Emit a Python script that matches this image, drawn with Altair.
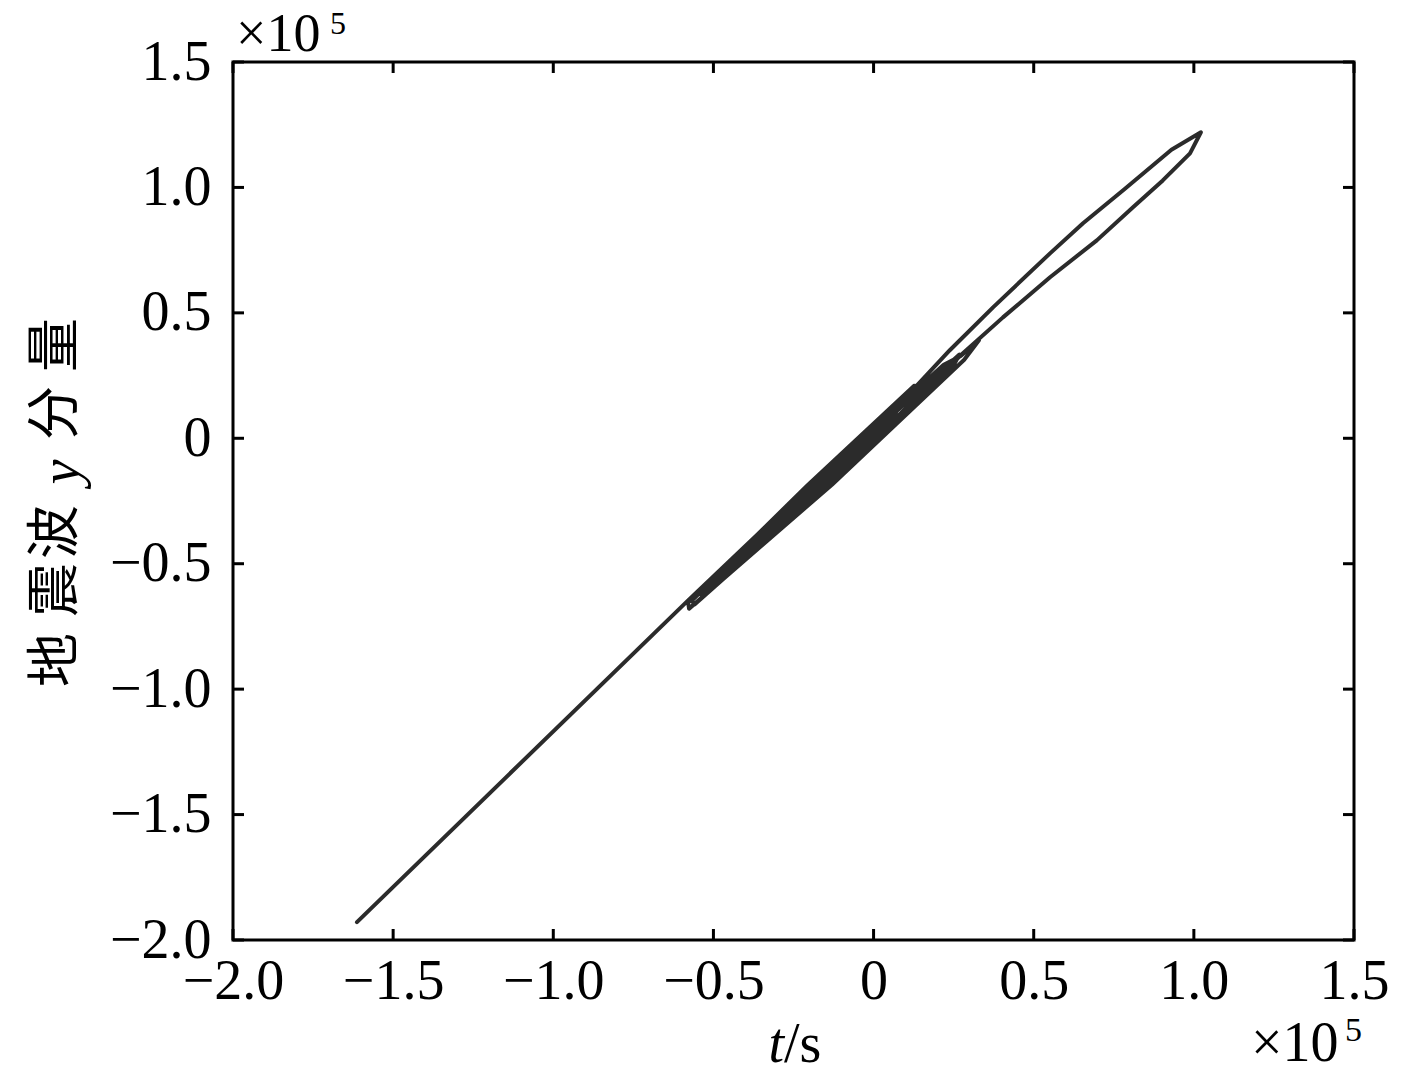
import altair as alt
import pandas as pd

# Trajectory (units of 1e5)
x_vals = [-1.613, -0.579, -0.230, 0.020, 0.092, 0.238, 0.373, 0.551, 0.654, 0.784, 0.930, 1.022,
          0.988, 0.903, 0.810, 0.697, 0.551, 0.404, 0.279, 0.135,
          -0.176, -0.558,
          -0.568, -0.160, 0.219, 0.272, 0.329,
          0.283, -0.130, -0.576,
          -0.579, -0.206, 0.126,
          0.178, -0.185, -0.537,
          -0.524, -0.112, 0.268,
          0.251, -0.139, -0.478,
          -0.466, -0.197, 0.092,
          0.061, -0.314,
          -0.068]
y_vals = [-1.929, -0.646, -0.223, 0.072, 0.151, 0.351, 0.522, 0.737, 0.857, 0.994, 1.150, 1.220,
          1.136, 1.028, 0.921, 0.789, 0.642, 0.482, 0.339, 0.163,
          -0.228, -0.662,
          -0.648, -0.144, 0.293, 0.328, 0.391,
          0.313, -0.185, -0.679,
          -0.655, -0.187, 0.209,
          0.201, -0.216, -0.627,
          -0.601, -0.104, 0.334,
          0.293, -0.173, -0.558,
          -0.532, -0.199, 0.148,
          0.085, -0.358,
          -0.057]

x_ticks = [-2.0, -1.5, -1.0, -0.5, 0.0, 0.5, 1.0, 1.5]
y_ticks = [-2.0, -1.5, -1.0, -0.5, 0.0, 0.5, 1.0, 1.5]

W, H = 1121, 878
SERIF = "Liberation Serif"
CJK = "Noto Sans CJK SC"
LINE = "#2b2b2b"

df = pd.DataFrame({"x": x_vals, "y": y_vals, "order": list(range(len(x_vals)))})
xt = pd.DataFrame({"v": x_ticks})
yt = pd.DataFrame({"v": y_ticks})

label_expr = "datum.value == 0 ? '0' : format(datum.value, '.1f')"

xscale = alt.Scale(domain=[-2.0, 1.5], nice=False, zero=False)
yscale = alt.Scale(domain=[-2.0, 1.5], nice=False, zero=False)

line = alt.Chart(df).mark_line(
    color=LINE, strokeWidth=4, strokeCap="round", strokeJoin="round"
).encode(
    x=alt.X("x:Q", scale=xscale,
            axis=alt.Axis(values=x_ticks, labelExpr=label_expr, title=None, ticks=False,
                          domain=False, grid=False, labelFont=SERIF, labelFontSize=56,
                          labelColor="black", labelPadding=14, labelFlush=False)),
    y=alt.Y("y:Q", scale=yscale,
            axis=alt.Axis(values=y_ticks, labelExpr=label_expr, title=None, ticks=False,
                          domain=False, grid=False, labelFont=SERIF, labelFontSize=56,
                          labelColor="black", labelPadding=22, labelFlush=False)),
    order="order:Q",
)

tick_style = dict(color="black", strokeWidth=3)
bottom_ticks = alt.Chart(xt).mark_rule(**tick_style).encode(
    x=alt.X("v:Q", scale=xscale), y=alt.value(H), y2=alt.value(H - 11))
top_ticks = alt.Chart(xt).mark_rule(**tick_style).encode(
    x=alt.X("v:Q", scale=xscale), y=alt.value(0), y2=alt.value(11))
left_ticks = alt.Chart(yt).mark_rule(**tick_style).encode(
    y=alt.Y("v:Q", scale=yscale), x=alt.value(0), x2=alt.value(11))
right_ticks = alt.Chart(yt).mark_rule(**tick_style).encode(
    y=alt.Y("v:Q", scale=yscale), x=alt.value(W), x2=alt.value(W - 11))

one = pd.DataFrame({"a": [0]})


def txt(s, x, y, font=SERIF, size=56, style="normal", align="left", baseline="alphabetic", angle=0):
    kw = dict(font=font, fontSize=size, fontStyle=style, align=align, baseline=baseline,
              color="black")
    if angle:
        kw["angle"] = angle
    return alt.Chart(one).mark_text(**kw).encode(
        x=alt.value(x), y=alt.value(y), text=alt.value(s))


# page coords -> chart coords: subtract (233, 62)
texts = [
    # x10^5 at top-left
    txt("×10", 236 - 233, 51 - 62, size=54),
    txt("5", 330 - 233, 34 - 62, size=32),
    # x10^5 at bottom-right
    txt("×10", 1251 - 233, 1061 - 62),
    txt("5", 1345 - 233, 1041 - 62, size=34),
    # x title t/s
    txt("t", 784 - 233, 1062 - 62, style="italic", align="right"),
    txt("/s", 784 - 233, 1062 - 62, align="left"),
    # y title (rotated)
    txt("地", 57 - 233, 660 - 62, font=CJK, size=54, align="center", baseline="middle", angle=270),
    txt("震", 57 - 233, 590 - 62, font=CJK, size=54, align="center", baseline="middle", angle=270),
    txt("波", 57 - 233, 532 - 62, font=CJK, size=54, align="center", baseline="middle", angle=270),
    txt("y", 62 - 233, 472 - 62, style="italic", size=56, align="center", baseline="middle", angle=270),
    txt("分", 57 - 233, 413 - 62, font=CJK, size=54, align="center", baseline="middle", angle=270),
    txt("量", 57 - 233, 345 - 62, font=CJK, size=54, align="center", baseline="middle", angle=270),
]

chart = alt.layer(line, bottom_ticks, top_ticks, left_ticks, right_ticks, *texts).properties(
    width=W, height=H,
    autosize=alt.AutoSizeParams(type="none"),
    padding={"left": 225, "top": 54, "right": 55, "bottom": 136},
).configure(
    background="white"
).configure_view(
    stroke="black", strokeWidth=3
)

chart.save("out.html", embed_options={"renderer": "svg", "actions": False})
